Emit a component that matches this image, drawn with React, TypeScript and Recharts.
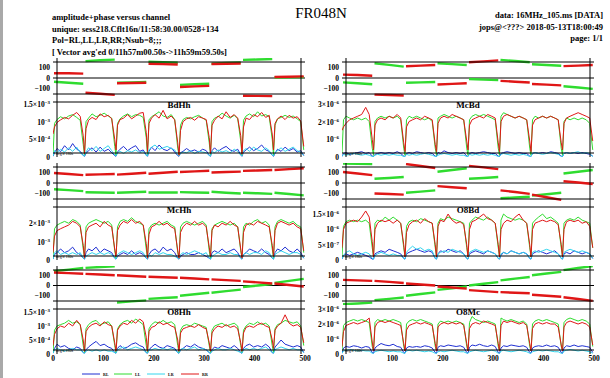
import React from "react";
import { LineChart, Line, XAxis, YAxis, ReferenceLine } from "recharts";

// 8 subbands of 62.5 channels; amplitude read at these channel offsets per subband
const SUB_WIDTH = 62.5;
const AMP_OFFSETS = [0, 3, 8, 15, 23, 31, 39, 47, 54, 60];
const PHASE_OFFSETS = [2, 31, 60];
const X_LABELS = [0, 100, 200, 300, 400, 500];
const PHASE_TICKS = [-100, 0, 100];

// ---- amplitudes (BdHh, McHh, O8Hh in 1e-4; McBd, O8Bd, O8Mc in 1e-7) ----
const BdHh_RR = [
  6.5, 8.5, 9.8, 10.5, 11.2, 10.8, 11.8, 12.6, 11.5, 6,
  1, 8, 10.4, 11.2, 10.6, 12.2, 11.4, 11.8, 10.8, 5,
  2, 9, 10.6, 11, 12, 10.8, 11.6, 12.4, 12.6, 7,
  1.5, 9.5, 11, 12, 11, 13.2, 10.8, 11.6, 10.5, 4,
  0.5, 7.5, 10, 10.8, 11.2, 10.4, 11.4, 11, 10.6, 5.5,
  1, 9, 10.4, 11.6, 10.8, 12.8, 11.2, 12, 11, 6,
  0.8, 8.5, 11, 10.6, 12, 11.4, 12.6, 11.2, 11.8, 6.5,
  2, 9.5, 10.8, 11.6, 10.6, 11.8, 11, 11.4, 10.2, 3,
];
const BdHh_LL = [
  0.5, 9.5, 10.6, 11.4, 10.8, 11.6, 12, 11.2, 10.4, 3.5,
  0.5, 10, 11, 12.2, 11.4, 11.8, 12.4, 11.6, 11, 3,
  0.5, 9.5, 10.8, 11.6, 12.2, 11.4, 12, 11.8, 11.2, 5.5,
  0.5, 10.5, 11.4, 12, 12.8, 11.6, 11.2, 12, 10.6, 2.5,
  0.5, 9, 10.6, 11.2, 10.8, 11.4, 11.8, 11, 10.4, 4,
  0.5, 10, 11, 11.4, 12.4, 11.6, 11, 11.8, 10.8, 4.5,
  0.5, 10.4, 11.6, 12.2, 11.4, 12.8, 11.6, 12, 11.4, 5,
  0.5, 9, 10.8, 11.2, 11.8, 11.2, 11.6, 10.8, 10, 2,
];
const BdHh_RL = [
  0.2, 1.2, 2.4, 1.5, 3.2, 2, 3.8, 2.2, 1.6, 0.5,
  0.2, 1, 1.8, 2.6, 1.4, 2.8, 1.6, 2.2, 1.2, 0.4,
  0.2, 1.4, 2.2, 3, 1.8, 2.6, 3.2, 1.6, 2, 0.6,
  0.2, 1.6, 2.8, 1.8, 3.4, 2.2, 1.8, 2.6, 1.4, 0.4,
  0.2, 1.2, 1.6, 2.4, 1.6, 2, 1.4, 2.2, 1.8, 0.5,
  0.2, 1.8, 2.6, 1.6, 2.4, 3, 2, 1.6, 2.2, 0.6,
  0.2, 1.4, 2, 2.8, 1.8, 2.4, 3.4, 2, 1.6, 0.5,
  0.2, 1, 2.2, 1.6, 2.8, 1.8, 2.4, 1.4, 1.8, 0.4,
];
const BdHh_LR = [
  0.3, 1.8, 1.2, 2.2, 1.4, 2.6, 1.6, 2.8, 1.2, 0.4,
  0.3, 1.4, 2.6, 1.8, 3, 1.6, 2.4, 3.2, 1.8, 0.5,
  0.3, 1.2, 1.6, 1, 1.8, 1.4, 2, 1.2, 1.6, 0.4,
  0.3, 2, 2.8, 3.4, 2.2, 2.6, 3, 2.4, 2, 0.6,
  0.3, 1, 1.4, 1.2, 1.8, 1, 1.6, 1.4, 1.2, 0.4,
  0.3, 1.6, 1.2, 2, 1.4, 1.8, 1.2, 2.2, 1.6, 0.5,
  0.3, 1.8, 2.4, 1.6, 2.8, 2, 1.6, 2.6, 1.8, 0.5,
  0.3, 1.2, 1.8, 2.6, 1.6, 2.2, 2.8, 1.8, 1.4, 0.4,
];

const McHh_RR = [
  4, 13, 16, 17, 18, 19, 21, 20, 18, 8,
  1, 15, 18, 19, 20, 18, 21, 19, 18, 6,
  2, 16, 19, 21, 20, 22, 20, 21, 19, 9,
  1, 14, 18, 19, 21, 19, 20, 18, 17, 5,
  1, 15, 18, 20, 19, 21, 19, 20, 18, 7,
  2, 16, 19, 18, 20, 19, 21, 19, 18, 6,
  1, 15, 19, 20, 19, 21, 20, 19, 18, 8,
  2, 16, 20, 21, 20, 19, 20, 18, 17, 5,
];
const McHh_LL = [
  1, 17, 19, 20, 21, 20, 22, 21, 19, 6,
  1, 18, 20, 21, 22, 21, 20, 21, 19, 5,
  1, 18, 21, 22, 21, 23, 21, 20, 19, 6,
  1, 17, 19, 20, 19, 20, 21, 19, 18, 4,
  1, 18, 20, 21, 20, 19, 20, 21, 19, 5,
  1, 17, 19, 20, 21, 20, 19, 20, 18, 5,
  1, 18, 20, 19, 21, 22, 20, 21, 19, 6,
  1, 18, 21, 22, 21, 20, 21, 19, 18, 4,
];
const McHh_RL = [
  0.5, 3, 4, 6, 4, 5, 7, 4, 3, 1,
  0.5, 4, 6, 5, 7, 4, 6, 5, 4, 1,
  0.5, 2, 3, 4, 3, 5, 3, 4, 3, 1,
  0.5, 3, 5, 6, 4, 7, 5, 6, 4, 1,
  0.5, 2, 3, 4, 3, 3, 4, 3, 2, 1,
  0.5, 4, 5, 4, 6, 4, 5, 6, 4, 1,
  0.5, 3, 4, 6, 5, 4, 6, 4, 3, 1,
  0.5, 4, 6, 5, 7, 5, 4, 6, 4, 1,
];
const McHh_LR = [
  0.5, 4, 5, 3, 4, 3, 4, 3, 4, 1,
  0.5, 2, 3, 4, 3, 4, 3, 4, 3, 1,
  0.5, 3, 4, 5, 4, 3, 4, 5, 4, 1,
  0.5, 3, 2, 4, 3, 4, 3, 3, 2, 1,
  0.5, 3, 4, 3, 4, 5, 4, 3, 4, 1,
  0.5, 2, 3, 4, 3, 3, 4, 3, 3, 1,
  0.5, 3, 4, 3, 4, 4, 3, 5, 4, 1,
  0.5, 3, 4, 5, 4, 3, 4, 4, 3, 1,
];

const O8Hh_RR = [
  3, 7, 9, 10, 9.5, 11, 10, 12, 10.5, 5,
  1, 8, 9.5, 10.5, 11, 10, 11.5, 10.5, 10, 4,
  1, 8.5, 10, 11, 10.5, 12, 11, 12.5, 11.5, 6,
  1, 8, 9.5, 10, 11.5, 10.5, 11, 10, 9.5, 5,
  1, 7.5, 9, 9.5, 10, 9.5, 10.5, 9.5, 9, 4,
  1, 7.5, 9, 10, 9.5, 10.5, 9.5, 10, 9, 4,
  1, 7.5, 9.5, 10, 9.5, 10.5, 11, 10, 9.5, 5,
  2, 8.5, 10, 11, 14, 11, 10, 10.5, 9.5, 4,
];
const O8Hh_LL = [
  0.5, 8.5, 10, 10.5, 11, 12, 11, 11.5, 10.5, 3,
  0.5, 9, 10.5, 11.5, 12, 10.5, 11, 11.5, 10, 3,
  0.5, 9, 10.5, 11.5, 12, 11, 12.5, 11.5, 10.5, 3,
  0.5, 9, 10.5, 11.5, 11, 12, 11, 11.5, 10.5, 3,
  0.5, 8.5, 10, 10.5, 10, 11, 10.5, 10, 9.5, 3,
  0.5, 8.5, 10, 10.5, 11, 10, 10.5, 11, 10, 3,
  0.5, 8.5, 10, 11, 10.5, 11.5, 10.5, 11, 10, 3,
  0.5, 9, 10.5, 11, 12, 11.5, 11, 11.5, 10, 3,
];
const O8Hh_RL = [
  0.3, 2, 3.5, 2.5, 3, 2, 1.5, 2.5, 2, 0.5,
  0.3, 1.5, 2.5, 3.5, 4.5, 3, 3.5, 2.5, 2, 0.5,
  0.3, 2, 3, 2, 2.5, 3.5, 4, 3, 2.5, 0.5,
  0.3, 1.5, 2.5, 3.5, 2.5, 2, 3, 2.5, 2, 0.5,
  0.3, 1.5, 2, 3, 2.5, 3.5, 2.5, 2, 1.5, 0.5,
  0.3, 1.5, 2.5, 2, 3, 2.5, 2, 3, 2, 0.5,
  0.3, 2, 3, 3.5, 2.5, 3, 2.5, 3.5, 2.5, 0.5,
  0.3, 2.5, 3.5, 5, 3.5, 3, 2.5, 3, 2.5, 0.5,
];
const O8Hh_LR = [
  0.3, 1.5, 2, 1.5, 1, 1.5, 2, 1.5, 1.5, 0.5,
  0.3, 1, 1.5, 1, 1.5, 1, 1.5, 1, 1, 0.5,
  0.3, 1.5, 2, 2.5, 1.5, 2, 2.5, 2, 1.5, 0.5,
  0.3, 1.5, 1.5, 2, 1.5, 2, 1.5, 2, 1.5, 0.5,
  0.3, 1.5, 2, 1.5, 2, 2.5, 1.5, 2, 1.5, 0.5,
  0.3, 1, 1.5, 2, 1.5, 1.5, 2, 1.5, 1, 0.5,
  0.3, 1.5, 2, 1.5, 2, 1.5, 2, 2.5, 1.5, 0.5,
  0.3, 1.5, 2, 2.5, 2, 1.5, 2, 1.5, 1.5, 0.5,
];

const McBd_RR = [
  15, 17, 19, 21, 22, 23, 24, 28, 24, 10,
  4, 18, 21, 22, 21, 23, 22, 24, 22, 8,
  3, 17, 20, 21, 22, 21, 23, 22, 21, 7,
  3, 19, 22, 23, 22, 24, 23, 22, 21, 9,
  4, 18, 21, 22, 23, 22, 24, 23, 22, 8,
  3, 20, 23, 24, 23, 22, 23, 22, 21, 9,
  3, 18, 21, 22, 23, 22, 23, 22, 21, 8,
  4, 19, 22, 23, 24, 25, 24, 23, 22, 9,
];
const McBd_LL = [
  2, 21, 23, 22, 21, 22, 21, 22, 20, 5,
  1, 20, 22, 23, 22, 23, 22, 23, 21, 5,
  1, 21, 23, 22, 23, 22, 21, 22, 20, 5,
  1, 22, 23, 24, 23, 22, 23, 22, 21, 5,
  1, 21, 23, 24, 23, 24, 23, 22, 21, 5,
  1, 23, 25, 24, 23, 22, 23, 22, 21, 5,
  1, 21, 23, 22, 23, 22, 23, 22, 21, 5,
  1, 20, 22, 21, 22, 21, 22, 21, 19, 4,
];
const McBd_RL = [
  0.3, 2, 2.5, 1.5, 2, 2.5, 3, 2, 2.5, 0.5,
  0.3, 1.5, 2, 2.5, 2, 2.5, 2, 3, 2, 0.5,
  0.3, 2, 2.5, 2, 3, 2.5, 2, 2.5, 2, 0.5,
  0.3, 2.5, 2, 3.5, 2.5, 2, 2.5, 2, 2.5, 0.5,
  0.3, 2, 2.5, 2, 2.5, 3, 2.5, 2, 2, 0.5,
  0.3, 2, 2.5, 3, 2.5, 2, 2.5, 2, 2, 0.5,
  0.3, 2, 2.5, 2, 2.5, 2, 3, 2.5, 2, 0.5,
  0.3, 2, 2.5, 2, 2.5, 2, 2.5, 2, 1.5, 0.5,
];
const McBd_LR = [
  0.3, 1.5, 1, 1.5, 2, 1.5, 1, 1.5, 1, 0.3,
  0.3, 1, 1.5, 1, 1.5, 1, 1.5, 1, 1, 0.3,
  0.3, 1.5, 1, 1.5, 1, 1.5, 2, 1.5, 1, 0.3,
  0.3, 1, 1.5, 2, 1.5, 1, 1.5, 1, 1, 0.3,
  0.3, 1.5, 1, 1.5, 1, 1.5, 1, 1.5, 1, 0.3,
  0.3, 1.5, 2, 1.5, 1, 1.5, 1, 1.5, 1, 0.3,
  0.3, 2, 2.5, 2, 1.5, 2, 2.5, 2, 1.5, 0.3,
  0.3, 2, 2.5, 2, 2.5, 3, 2, 2.5, 2, 0.3,
];

const O8Bd_RR = [
  4, 10, 12, 12.5, 13, 12.5, 14, 16, 14, 6,
  1, 10, 12, 13, 12.5, 13, 12, 13, 12, 5,
  1, 9, 11.5, 12.5, 13, 12, 13.5, 12.5, 12, 5,
  1, 11, 13, 12.5, 15, 13, 12, 12.5, 11.5, 5,
  1, 10, 12.5, 13, 14, 15, 13.5, 13, 12, 5,
  1, 10, 12, 13, 12.5, 14, 15, 13, 12, 5,
  1, 10, 12, 12.5, 13, 12.5, 13, 12.5, 11.5, 5,
  1, 10, 12.5, 13, 12.5, 13, 12, 12.5, 11, 4,
];
const O8Bd_LL = [
  1, 11, 12.5, 13, 12.5, 13, 12.5, 13, 12, 4,
  1, 12, 13, 12.5, 14, 13, 14, 13, 12, 4,
  1, 11, 12.5, 13, 12.5, 13.5, 13, 12.5, 12, 4,
  1, 12, 13.5, 13, 14, 13.5, 13, 12.5, 12, 4,
  1, 12, 13, 14, 13.5, 13, 14, 13, 12, 4,
  1, 13, 15, 14, 13.5, 13, 13.5, 13, 12, 4,
  1, 12, 13, 14, 15, 13.5, 14, 13, 12, 4,
  1, 12, 13, 13.5, 13, 14, 13, 12.5, 12, 4,
];
const O8Bd_RL = [
  0.3, 1.5, 2, 1.5, 2, 2.5, 2, 1.5, 1, 0.3,
  0.3, 2, 2.5, 3, 2.5, 3.5, 3, 2.5, 2, 0.5,
  0.3, 2, 2.5, 3, 3.5, 3, 2.5, 3, 2.5, 0.5,
  0.3, 2, 3, 2.5, 3.5, 3, 2.5, 3, 2, 0.5,
  0.3, 2, 2.5, 3, 2.5, 2, 3, 2.5, 2, 0.5,
  0.3, 1.5, 2.5, 2, 3, 2.5, 2, 2.5, 2, 0.5,
  0.3, 2, 2.5, 3, 2.5, 2, 2.5, 3, 2, 0.5,
  0.3, 2, 2.5, 2, 3, 2.5, 2, 2.5, 2, 0.5,
];
const O8Bd_LR = [
  0.3, 1.5, 2.5, 3, 2, 1.5, 2, 2.5, 2, 0.5,
  0.3, 1.5, 2, 2.5, 2, 1.5, 2, 1.5, 1.5, 0.5,
  0.3, 2.5, 3.5, 4.5, 3.5, 4, 3, 3.5, 3, 0.5,
  0.3, 2, 2.5, 3, 2.5, 3.5, 3, 2.5, 2, 0.5,
  0.3, 2.5, 3, 3.5, 3, 2.5, 3, 2.5, 2, 0.5,
  0.3, 2, 2.5, 2, 3, 2.5, 2, 2.5, 2, 0.5,
  0.3, 2.5, 3, 2.5, 3, 3.5, 3, 2.5, 2, 0.5,
  0.3, 2.5, 3, 3.5, 3, 2.5, 3, 2.5, 2, 0.5,
];

const O8Mc_RR = [
  5, 15, 19, 20, 21, 20, 21, 22, 24, 8,
  2, 18, 21, 22, 21, 22, 21, 20, 19, 7,
  2, 16, 19, 20, 21, 20, 21, 20, 19, 7,
  2, 18, 20, 21, 20, 21, 20, 21, 19, 7,
  2, 17, 20, 21, 20, 22, 21, 20, 19, 7,
  2, 19, 22, 21, 22, 21, 20, 21, 19, 7,
  2, 17, 20, 21, 20, 21, 20, 20, 18, 6,
  2, 18, 21, 22, 21, 20, 21, 20, 18, 6,
];
const O8Mc_LL = [
  2, 19, 21, 22, 23, 22, 23, 22, 21, 5,
  2, 21, 23, 22, 23, 22, 23, 22, 21, 5,
  2, 20, 22, 23, 22, 23, 22, 21, 20, 5,
  2, 20, 22, 21, 22, 21, 22, 21, 20, 5,
  2, 21, 25, 23, 22, 21, 22, 21, 20, 5,
  2, 24, 23, 22, 23, 22, 21, 22, 20, 5,
  2, 20, 22, 23, 22, 23, 22, 21, 20, 5,
  2, 21, 23, 24, 23, 22, 23, 22, 20, 5,
];
const O8Mc_RL = [
  0.5, 4, 5, 4.5, 5.5, 5, 4, 5, 4.5, 1,
  0.5, 4, 5.5, 7, 6, 5.5, 6.5, 5, 4.5, 1,
  0.5, 4, 5, 4.5, 5, 4.5, 5.5, 5, 4, 1,
  0.5, 4.5, 5.5, 5, 6, 5.5, 5, 5.5, 4.5, 1,
  0.5, 4.5, 6, 5.5, 6.5, 5.5, 5, 6, 5, 1,
  0.5, 4, 5.5, 5, 6, 5.5, 5, 5.5, 4.5, 1,
  0.5, 4, 5, 5.5, 5, 6, 5, 5.5, 4.5, 1,
  0.5, 4, 5.5, 5, 6, 5, 5.5, 5, 4.5, 1,
];
const O8Mc_LR = [
  0.5, 2, 2.5, 3, 2.5, 2, 2.5, 2, 2, 0.5,
  0.5, 1.5, 2, 2.5, 2, 1.5, 2, 1.5, 1.5, 0.5,
  0.5, 2, 2.5, 2, 2.5, 2, 1.5, 2, 1.5, 0.5,
  0.5, 1.5, 2, 1.5, 2, 2.5, 2, 1.5, 1.5, 0.5,
  0.5, 1.5, 2, 2.5, 2, 1.5, 2, 2.5, 2, 0.5,
  0.5, 2, 2.5, 2, 1.5, 2, 2.5, 2, 1.5, 0.5,
  0.5, 1.5, 2, 2.5, 2, 2.5, 2, 1.5, 1.5, 0.5,
  0.5, 2, 2.5, 3, 2.5, 2, 2.5, 2, 1.5, 0.5,
];

// ---- phases (deg), start/middle/end of each subband ----
const BdHh_PH_RR = [45, 45, 42, -140, -150, -160, -50, -48, -45, 135, 132, 128, -85, -80, -75, 133, 135, 138, -168, -170, -172, 10, 12, 15];
const BdHh_PH_LL = [-35, -45, -55, 160, 168, 175, -45, -42, -38, 155, 150, 145, -65, -60, -55, 135, 142, 148, 172, 176, 180, 5, 6, 8];
const McHh_PH_RR = [95, 85, 75, 78, 82, 86, 80, 88, 97, 88, 98, 107, 105, 110, 117, 100, 104, 108, 115, 119, 123, 123, 132, 140];
const McHh_PH_LL = [-60, -68, -77, -88, -90, -92, -93, -88, -83, -90, -90, -90, -87, -90, -93, -83, -92, -100, -93, -98, -103, -93, -105, -118];
const O8Hh_PH_RR = [127, 121, 115, 113, 107, 100, 100, 92, 85, 85, 80, 75, 75, 68, 60, 60, 52, 45, 40, 30, 20, 20, 5, -10];
const O8Hh_PH_LL = [140, 155, 170, 172, 180, 188, -165, -155, -145, -130, -122, -115, -100, -85, -70, -70, -55, -40, -15, 0, 15, 25, 45, 65];
const McBd_PH_RR = [32, 28, 22, -158, -162, -166, 112, 118, 123, -62, -56, -50, 150, 158, 167, -27, -35, -43, -57, -63, -70, 113, 118, 123];
const McBd_PH_LL = [-42, -50, -60, 140, 125, 108, -45, -42, -38, 140, 132, 123, -10, -15, -20, 172, 162, 150, 130, 124, 117, -78, -90, -103];
const O8Bd_PH_RR = [105, 90, 75, -100, -105, -110, 180, 162, 142, -30, -40, -50, 163, 148, 132, -70, -85, -103, -110, -135, -160, 17, 5, -10];
const O8Bd_PH_LL = [185, 182, 180, 40, 48, 57, -93, -82, -70, 107, 123, 140, 40, 48, 57, -145, -138, -130, -120, -107, -93, 90, 107, 123];
const O8Mc_PH_RR = [55, 50, 45, 45, 35, 25, 20, 10, 0, -10, -20, -30, -45, -55, -65, -65, -70, -75, -90, -100, -110, -115, -132, -150];
const O8Mc_PH_LL = [-183, -175, -167, -143, -130, -117, -100, -83, -67, -43, -27, -10, 0, 17, 33, 50, 67, 83, 100, 117, 133, 150, 170, 190];

const COLORS = { RL: "#1f2fd2", LL: "#2fdc2f", LR: "#33d6ee", RR: "#e01616" };
const FONT = "Liberation Serif, DejaVu Serif, serif";
const PLOT_W = 252;
const LBL = 44;

const range = (a: number, b: number, s: number) => {
  const out: number[] = [];
  for (let v = a; v <= b + 1e-9; v += s) out.push(v);
  return out;
};
const X_MINOR = range(0, 500, 20);
const PHASE_MINOR = range(-180, 180, 20);

function ampRows(rl: number[], ll: number[], lr: number[], rr: number[]) {
  return rl.map((_, i) => ({
    ch: Math.floor(i / AMP_OFFSETS.length) * SUB_WIDTH + AMP_OFFSETS[i % AMP_OFFSETS.length],
    rl: rl[i], ll: ll[i], lr: lr[i], rr: rr[i],
  }));
}

function phaseRows(rr: number[], ll: number[]) {
  const rows: any[] = [];
  for (let s = 0; s < 8; s++) {
    PHASE_OFFSETS.forEach((o, k) => rows.push({ ch: s * SUB_WIDTH + o, rr: rr[s * 3 + k], ll: ll[s * 3 + k] }));
    rows.push({ ch: s * SUB_WIDTH + 61.5, rr: null, ll: null });
  }
  return rows;
}

const tickFont = { fontSize: 7.5, fill: "#000", fontFamily: FONT, fontWeight: 700 };

// box with inward ticks on all four sides (mirrored axes take no room)
function frame(yDom: number[], yMajor: number[], yMinor: number[]) {
  const common = { type: "number" as const, interval: 0 as const, tick: false, allowDataOverflow: true, mirror: true };
  const line = { stroke: "#000", strokeWidth: 1 };
  return [
    <XAxis key="xb" xAxisId="b" dataKey="ch" domain={[0, 500]} ticks={X_MINOR} height={4} tickSize={2} axisLine={line} tickLine={line} {...common} />,
    <XAxis key="xB" xAxisId="B" dataKey="ch" domain={[0, 500]} ticks={X_LABELS} height={4} tickSize={4} axisLine={false} tickLine={line} {...common} />,
    <XAxis key="xt" xAxisId="t" orientation="top" dataKey="ch" domain={[0, 500]} ticks={X_MINOR} height={4} tickSize={2} axisLine={line} tickLine={line} {...common} />,
    <XAxis key="xT" xAxisId="T" orientation="top" dataKey="ch" domain={[0, 500]} ticks={X_LABELS} height={4} tickSize={4} axisLine={false} tickLine={line} {...common} />,
    <YAxis key="yl" yAxisId="l" domain={yDom} ticks={yMinor} width={4} tickSize={2} axisLine={line} tickLine={line} {...common} />,
    <YAxis key="yL" yAxisId="L" domain={yDom} ticks={yMajor} width={4} tickSize={4} axisLine={false} tickLine={line} {...common} />,
    <YAxis key="yr" yAxisId="r" orientation="right" domain={yDom} ticks={yMinor} width={4} tickSize={2} axisLine={line} tickLine={line} {...common} />,
    <YAxis key="yR" yAxisId="R" orientation="right" domain={yDom} ticks={yMajor} width={4} tickSize={4} axisLine={false} tickLine={line} {...common} />,
  ];
}

const AmpTick = (props: any) => {
  const { x, y, payload, labels } = props;
  const lab = labels[payload.value];
  if (!lab) return null;
  return (
    <text x={x} y={y} dy={3} textAnchor="end" {...tickFont}>
      {lab[0]}
      {lab[1] && (
        <tspan dy={-3} fontSize={5}>
          {lab[1]}
        </tspan>
      )}
    </text>
  );
};

type PanelProps = {
  left: number; phTop: number; ampTop: number; ampBot: number; title: string;
  phase: any[]; amp: any[]; ampMax: number; ampMajor: number[]; ampMinor: number[];
  labels: Record<number, string[]>; xLabels?: boolean;
};

function Panel(p: PanelProps) {
  const phH = p.ampTop - p.phTop;
  const ampH = p.ampBot - p.ampTop;
  const phDom = [-190, 190];
  const ampDom = [0, p.ampMax];
  const extra = p.xLabels ? 12 : 0;
  return (
    <>
      <div style={{ position: "absolute", left: p.left - LBL, top: p.phTop - 1 }}>
        <LineChart width={LBL + PLOT_W + 1} height={phH + 2} data={p.phase} margin={{ top: 1, right: 1, bottom: 1, left: 0 }}>
          {frame(phDom, PHASE_TICKS, PHASE_MINOR)}
          <YAxis yAxisId="v" type="number" domain={phDom} ticks={PHASE_TICKS} width={LBL} interval={0} tickSize={1} tickMargin={2}
            tickLine={false} axisLine={false} allowDataOverflow tick={tickFont}
            tickFormatter={(v: number) => (v < 0 ? "\u2212" + Math.abs(v) : String(v))} />
          <ReferenceLine xAxisId="b" yAxisId="v" y={0} stroke="#000" strokeWidth={1} />
          <Line xAxisId="b" yAxisId="v" dataKey="ll" stroke={COLORS.LL} strokeWidth={2.4} dot={false} isAnimationActive={false} />
          <Line xAxisId="b" yAxisId="v" dataKey="rr" stroke={COLORS.RR} strokeWidth={2.4} dot={false} isAnimationActive={false} />
        </LineChart>
      </div>
      <div style={{ position: "absolute", left: p.left - LBL, top: p.ampTop - 1 }}>
        <LineChart width={LBL + PLOT_W + 1} height={ampH + 2 + extra} data={p.amp} margin={{ top: 1, right: 1, bottom: 1, left: 0 }}>
          {frame(ampDom, p.ampMajor, p.ampMinor)}
          {p.xLabels && (
            <XAxis xAxisId="lab" type="number" dataKey="ch" domain={[0, 500]} ticks={X_LABELS} height={12} interval={0}
              tickSize={1} tickMargin={1} tickLine={false} axisLine={false} tick={tickFont} />
          )}
          <YAxis yAxisId="v" type="number" domain={ampDom} ticks={p.ampMajor} width={LBL} interval={0} tickSize={1} tickMargin={2}
            tickLine={false} axisLine={false} allowDataOverflow tick={(t: any) => <AmpTick {...t} labels={p.labels} />} />
          <Line xAxisId="b" yAxisId="v" dataKey="rl" stroke={COLORS.RL} strokeWidth={1} dot={false} isAnimationActive={false} />
          <Line xAxisId="b" yAxisId="v" dataKey="ll" stroke={COLORS.LL} strokeWidth={1} dot={false} isAnimationActive={false} />
          <Line xAxisId="b" yAxisId="v" dataKey="lr" stroke={COLORS.LR} strokeWidth={1} dot={false} isAnimationActive={false} />
          <Line xAxisId="b" yAxisId="v" dataKey="rr" stroke={COLORS.RR} strokeWidth={1} dot={false} isAnimationActive={false} />
        </LineChart>
      </div>
      <svg width={610} height={378} style={{ position: "absolute", left: 0, top: 0, pointerEvents: "none" }}>
        <text x={p.left + PLOT_W / 2} y={p.ampTop + 10} textAnchor="middle" fontSize={9} fontWeight={700} fontFamily={FONT}>{p.title}</text>
        <text x={p.left + 3} y={p.ampBot - 2} fontSize={4} fontFamily={FONT}>avg&apos;d 180s</text>
      </svg>
    </>
  );
}

const LBL_E4: Record<number, string[]> = { 0: ["0"], 5: ["5\u00d710", "\u22124"], 10: ["10", "\u22123"], 15: ["1.5\u00d710", "\u22123"] };
const LBL_MC: Record<number, string[]> = { 0: ["0"], 10: ["10", "\u22123"], 20: ["2\u00d710", "\u22123"] };
const LBL_E7: Record<number, string[]> = { 0: ["0"], 10: ["10", "\u22126"], 20: ["2\u00d710", "\u22126"], 30: ["3\u00d710", "\u22126"] };
const LBL_BD: Record<number, string[]> = { 0: ["0"], 5: ["5\u00d710", "\u22127"], 10: ["10", "\u22126"], 15: ["1.5\u00d710", "\u22126"] };

const LEGEND = [
  { name: "RL", color: COLORS.RL, x: 82 },
  { name: "LL", color: COLORS.LL, x: 114 },
  { name: "LR", color: COLORS.LR, x: 147 },
  { name: "RR", color: COLORS.RR, x: 181 },
];

export default function App() {
  const L = 53;
  const R = 342;
  const rows = [
    { phTop: 58, ampTop: 98, ampBot: 157 },
    { phTop: 163, ampTop: 203, ampBot: 260 },
    { phTop: 266, ampTop: 305, ampBot: 354 },
  ];
  return (
    <div style={{ position: "absolute", left: 0, top: 0, width: 610, height: 378, background: "#fff", overflow: "hidden" }}>
      <style>{".recharts-surface{overflow:visible}"}</style>
      <div style={{ position: "absolute", left: 0, top: 0, width: 3, height: 378, background: "#a9a9a9" }} />
      <svg width={610} height={378} style={{ position: "absolute", left: 0, top: 0 }}>
        <text x={321} y={18} textAnchor="middle" fontSize={15} fontFamily={FONT}>FR048N</text>
        <g fontSize={8.5} fontWeight={700} fontFamily={FONT}>
          <text x={52} y={20}>amplitude+phase versus channel</text>
          <text x={52} y={32}>unique: sess218.Cflt16n/11:58:30.00/0528+134</text>
          <text x={52} y={43}>Pol=RL,LL,LR,RR;Nsub=8;;;</text>
          <text x={52} y={55}>[ Vector avg&apos;ed 0/11h57m00.50s-&gt;11h59m59.50s]</text>
          <text x={603} y={18} textAnchor="end">data: 16MHz_105.ms [DATA]</text>
          <text x={603} y={30} textAnchor="end">jops@&lt;???&gt; 2018-05-13T18:00:49</text>
          <text x={603} y={41} textAnchor="end">page: 1/1</text>
        </g>
        {LEGEND.map((l) => (
          <g key={l.name}>
            <line x1={l.x} x2={l.x + 18} y1={374} y2={374} stroke={l.color} strokeWidth={1} />
            <text x={l.x + 21} y={375.5} fontSize={4} fontWeight={700} fontFamily={FONT}>{l.name}</text>
          </g>
        ))}
      </svg>
      <Panel left={L} {...rows[0]} title="BdHh" phase={phaseRows(BdHh_PH_RR, BdHh_PH_LL)} amp={ampRows(BdHh_RL, BdHh_LL, BdHh_LR, BdHh_RR)}
        ampMax={16.7} ampMajor={[0, 5, 10, 15]} ampMinor={range(0, 16, 1)} labels={LBL_E4} />
      <Panel left={L} {...rows[1]} title="McHh" phase={phaseRows(McHh_PH_RR, McHh_PH_LL)} amp={ampRows(McHh_RL, McHh_LL, McHh_LR, McHh_RR)}
        ampMax={31} ampMajor={[0, 10, 20]} ampMinor={range(0, 30, 2)} labels={LBL_MC} />
      <Panel left={L} {...rows[2]} title="O8Hh" phase={phaseRows(O8Hh_PH_RR, O8Hh_PH_LL)} amp={ampRows(O8Hh_RL, O8Hh_LL, O8Hh_LR, O8Hh_RR)}
        ampMax={17.5} ampMajor={[0, 5, 10, 15]} ampMinor={range(0, 17, 1)} labels={LBL_E4} xLabels />
      <Panel left={R} {...rows[0]} title="McBd" phase={phaseRows(McBd_PH_RR, McBd_PH_LL)} amp={ampRows(McBd_RL, McBd_LL, McBd_LR, McBd_RR)}
        ampMax={33.3} ampMajor={[0, 10, 20, 30]} ampMinor={range(0, 32, 2)} labels={LBL_E7} />
      <Panel left={R} {...rows[1]} title="O8Bd" phase={phaseRows(O8Bd_PH_RR, O8Bd_PH_LL)} amp={ampRows(O8Bd_RL, O8Bd_LL, O8Bd_LR, O8Bd_RR)}
        ampMax={18.6} ampMajor={[0, 5, 10, 15]} ampMinor={range(0, 18, 1)} labels={LBL_BD} />
      <Panel left={R} {...rows[2]} title="O8Mc" phase={phaseRows(O8Mc_PH_RR, O8Mc_PH_LL)} amp={ampRows(O8Mc_RL, O8Mc_LL, O8Mc_LR, O8Mc_RR)}
        ampMax={32.7} ampMajor={[0, 10, 20, 30]} ampMinor={range(0, 32, 2)} labels={LBL_E7} xLabels />
    </div>
  );
}
